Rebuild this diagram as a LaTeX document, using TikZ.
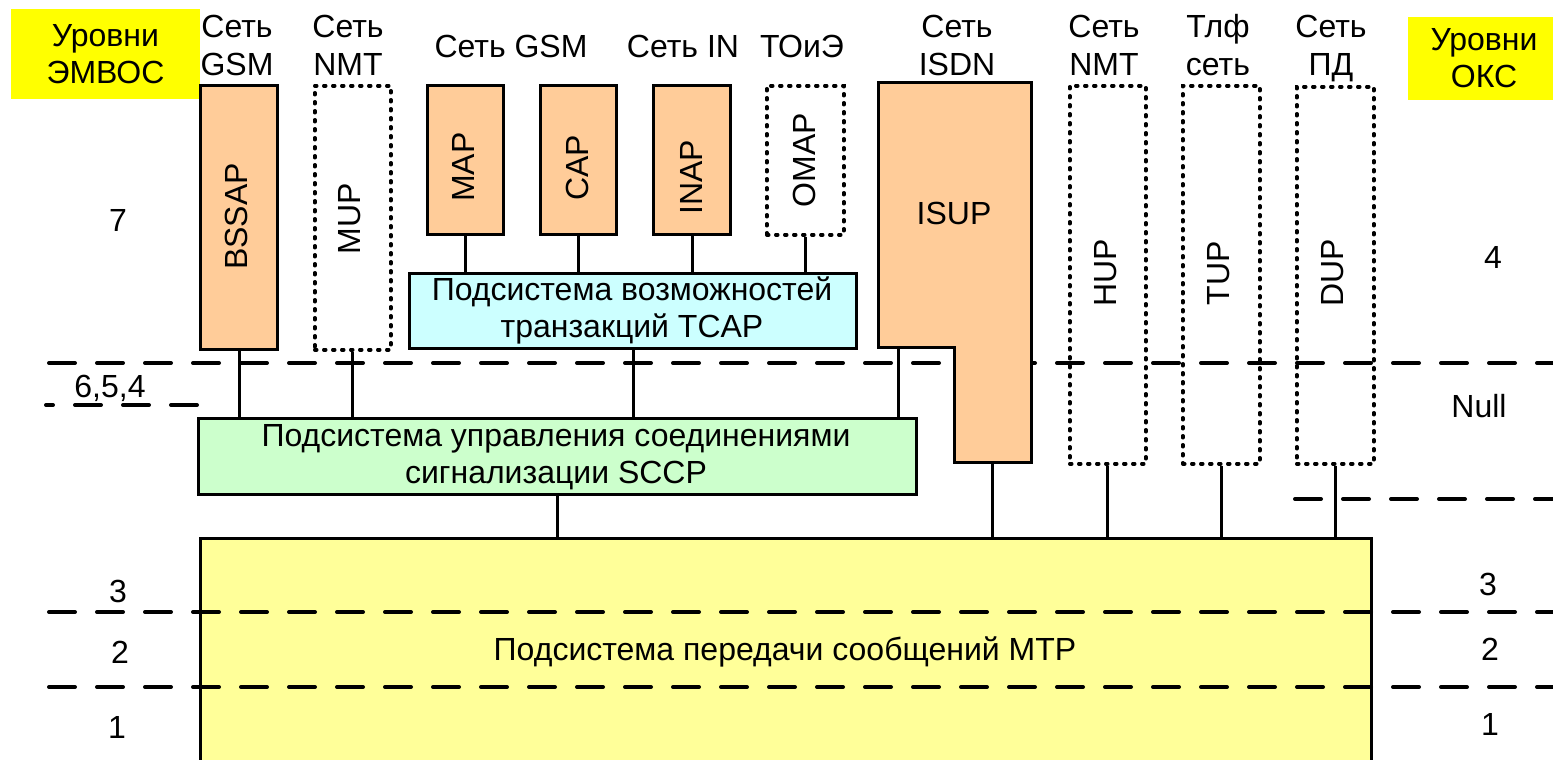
\documentclass[tikz,border=0pt]{standalone}
\usepackage{fontspec}
\setmainfont{Liberation Sans}
\definecolor{peach}{HTML}{FFCC99}
\definecolor{tcapc}{HTML}{CCFFFF}
\definecolor{sccpc}{HTML}{CCFFCC}
\definecolor{mtpc}{HTML}{FFFF99}
\definecolor{lvly}{HTML}{FFFF00}
\begin{document}
\begin{tikzpicture}[x=1pt,y=-1pt,
  every node/.style={inner sep=0pt, font=\fontsize{32}{37}\selectfont},
  box/.style={draw, line width=3pt, rectangle, anchor=north west},
  dotbox/.style={draw, line width=3.5pt, dash pattern=on 2pt off 7pt, line cap=round, rectangle, anchor=north west},
  level/.style={line width=4pt, dash pattern=on 26pt off 22pt, line cap=round},
  wire/.style={line width=3pt},
  lbl/.style={anchor=base},
  mlbl/.style={anchor=base, align=center},
  vlbl/.style={rotate=90},
  lvlbox/.style={fill=lvly, align=center},
]
\useasboundingbox (0,0) rectangle (1553,760);
\clip (0,0) rectangle (1553,760);
\fill[white] (0,0) rectangle (1553,760);

% MTP
\node[box, fill=mtpc, minimum width=1171pt, minimum height=240pt] (mtp) at (199,537) {};
\node[lbl] (mtplbl) at (785,660) {Подсистема передачи сообщений МТР};

% level separators
\draw[level] (49,363) -- (1553,363);
\draw[level] (197,405) -- (46,405);
\draw[level] (1295,499) -- (1553,499);
\draw[level] (49,612) -- (1553,612);
\draw[level] (49,687) -- (1553,687);

% level labels
\node[lvlbox, minimum width=189pt, minimum height=90pt] (emvos) at (105.5,54) {Уровни\\ЭМВОС};
\node[lvlbox, minimum width=152pt, minimum height=83pt] (oks) at (1484,58.5) {Уровни\\ОКС};
\node[lbl] (l7) at (118,231) {7};
\node[lbl] (l654) at (110,397) {6,5,4};
\node[lbl] (l3a) at (118,602) {3};
\node[lbl] (l2a) at (120,663) {2};
\node[lbl] (l1a) at (117,738) {1};
\node[lbl] (l4) at (1493,268) {4};
\node[lbl] (lnull) at (1479,417) {Null};
\node[lbl] (l3b) at (1488,595) {3};
\node[lbl] (l2b) at (1490,660) {2};
\node[lbl] (l1b) at (1490,735) {1};

% network labels (anchor base = last line baseline)
\node[mlbl] (n1) at (237,75) {Сеть\\GSM};
\node[mlbl] (n2) at (348,75) {Сеть\\NMT};
\node[lbl] (n3) at (511,58) {Сеть GSM};
\node[lbl] (n4) at (683,58) {Сеть IN};
\node[lbl] (n5) at (802,58) {ТОиЭ};
\node[mlbl] (n6) at (957,75) {Сеть\\ISDN};
\node[mlbl] (n7) at (1104,75) {Сеть\\NMT};
\node[mlbl] (n8) at (1218,75) {Тлф\\сеть};
\node[mlbl] (n9) at (1331,75) {Сеть\\ПД};

% user parts
\node[box, fill=peach, minimum width=77pt, minimum height=264pt] (bssap) at (199,84) {};
\node[vlbl] (bssaplbl) at (236,216.5) {BSSAP};
\node[dotbox, minimum width=76pt, minimum height=264pt] (mup) at (313,84) {};
\node[vlbl] (muplbl) at (350,219) {MUP};

\node[box, fill=peach, minimum width=76pt, minimum height=149pt] (map) at (426,84) {};
\node[vlbl] (maplbl) at (463,167) {MAP};
\node[box, fill=peach, minimum width=76pt, minimum height=149pt] (cap) at (539,84) {};
\node[vlbl] (caplbl) at (577,168) {CAP};
\node[box, fill=peach, minimum width=77pt, minimum height=149pt] (inap) at (652,84) {};
\node[vlbl] (inaplbl) at (691,177) {INAP};
\node[dotbox, minimum width=77pt, minimum height=149pt] (omap) at (765,84) {};
\node[vlbl] (omaplbl) at (804,160) {OMAP};

\node[box, fill=tcapc, minimum width=447pt, minimum height=75pt] (tcap) at (408,272) {};
\node[mlbl] (tcaplbl) at (632,337) {Подсистема возможностей\\транзакций TCAP};

\node[box, fill=sccpc, minimum width=718pt, minimum height=76pt] (sccp) at (197,417) {};
\node[mlbl] (sccplbl) at (556,483) {Подсистема управления соединениями\\сигнализации SCCP};

% ISUP
\draw[fill=peach, line width=3pt] (878,83) -- (1031,83) -- (1031,462) -- (954,462) -- (954,347) -- (878,347) -- cycle;
\coordinate (isupL) at (898,347);
\coordinate (isupB) at (992,462);
\node[lbl] (isuplbl) at (954,224) {ISUP};

\node[dotbox, minimum width=76pt, minimum height=378pt] (hup) at (1068,84) {};
\node[vlbl] (huplbl) at (1106,273) {HUP};
\node[dotbox, minimum width=77pt, minimum height=378pt] (tup) at (1181,84) {};
\node[vlbl] (tuplbl) at (1219,273) {TUP};
\node[dotbox, minimum width=77pt, minimum height=377pt] (dup) at (1295,85) {};
\node[vlbl] (duplbl) at (1333,273) {DUP};

% connectors
\draw[wire] (map.south) -- (map.south |- tcap.north);
\draw[wire] (cap.south) -- (cap.south |- tcap.north);
\draw[wire] (inap.south) -- (inap.south |- tcap.north);
\draw[wire] (omap.south) -- (omap.south |- tcap.north);
\draw[wire] (bssap.south) -- (bssap.south |- sccp.north);
\draw[wire] (mup.south) -- (mup.south |- sccp.north);
\draw[wire] (tcap.south) -- (tcap.south |- sccp.north);
\draw[wire] (isupL) -- (isupL |- sccp.north);
\draw[wire] (sccp.south) -- (sccp.south |- mtp.north);
\draw[wire] (isupB) -- (isupB |- mtp.north);
\draw[wire] (hup.south) -- (hup.south |- mtp.north);
\draw[wire] (tup.south) -- (tup.south |- mtp.north);
\draw[wire] (dup.south) -- (dup.south |- mtp.north);
\end{tikzpicture}
\end{document}
